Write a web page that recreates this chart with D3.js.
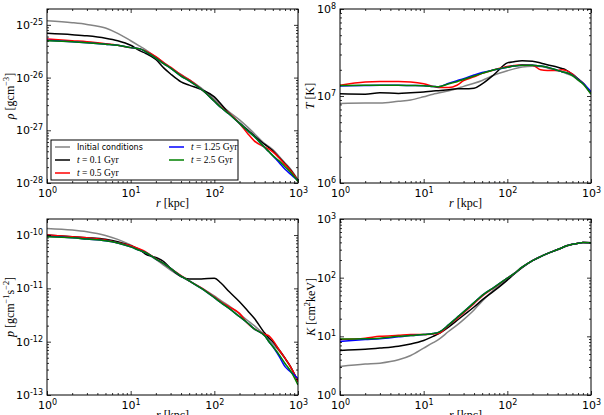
<!DOCTYPE html>
<html>
<head>
<meta charset="utf-8">
<script src="https://cdn.jsdelivr.net/npm/d3@7"></script>
<style>
  body { margin: 0; background: #fff; }
  svg { display: block; }
</style>
</head>
<body>
<div id="chart"></div>
<script>
// radius grid [kpc], shared by every profile
const R = [1, 2, 3, 5, 7, 10, 13, 15, 20, 25, 30, 40, 50, 70, 100, 120, 150, 200, 250, 300, 400, 450, 500, 600, 700, 800, 1000];

// density [g cm^-3]
const rhoInit = [1.20e-25, 1.10e-25, 1.02e-25, 8.7e-26, 6.9e-26, 5.0e-26, 3.9e-26, 3.4e-26, 2.45e-26, 1.9e-26, 1.51e-26, 1.15e-26, 9.1e-27, 6.3e-27, 3.9e-27, 3.0e-27, 2.24e-27, 1.58e-27, 1.15e-27, 8.7e-28, 5.6e-28, 4.9e-28, 4.3e-28, 3.16e-28, 2.4e-28, 1.9e-28, 1.15e-28];
const rhoT01 = [6.9e-26, 6.5e-26, 6.2e-26, 5.6e-26, 5.0e-26, 4.1e-26, 3.2e-26, 2.9e-26, 2.2e-26, 1.51e-26, 1.17e-26, 8.3e-27, 7.2e-27, 5.9e-27, 4.3e-27, 3.16e-27, 2.1e-27, 1.38e-27, 1.02e-27, 7.9e-28, 5.4e-28, 4.7e-28, 4.1e-28, 3.0e-28, 2.3e-28, 1.82e-28, 1.1e-28];
const rhoT05 = [5.4e-26, 5.0e-26, 4.8e-26, 4.4e-26, 4.1e-26, 3.7e-26, 3.5e-26, 3.2e-26, 2.5e-26, 1.9e-26, 1.58e-26, 1.12e-26, 9.1e-27, 6.0e-27, 3.6e-27, 2.75e-27, 2.1e-27, 1.35e-27, 8.7e-28, 6.3e-28, 4.8e-28, 4.4e-28, 3.9e-28, 2.95e-28, 2.24e-28, 1.78e-28, 1.1e-28];
const rhoT125 = [5.1e-26, 4.8e-26, 4.6e-26, 4.3e-26, 4.1e-26, 3.7e-26, 3.5e-26, 3.1e-26, 2.35e-26, 1.82e-26, 1.51e-26, 1.07e-26, 8.7e-27, 6.0e-27, 3.55e-27, 2.7e-27, 2.04e-27, 1.35e-27, 9.8e-28, 7.6e-28, 4.7e-28, 3.9e-28, 3.3e-28, 2.4e-28, 1.82e-28, 1.51e-28, 1.12e-28];
const rhoT25 = [5.0e-26, 4.8e-26, 4.6e-26, 4.3e-26, 4.1e-26, 3.7e-26, 3.5e-26, 3.1e-26, 2.35e-26, 1.82e-26, 1.51e-26, 1.07e-26, 8.7e-27, 6.0e-27, 3.55e-27, 2.7e-27, 2.04e-27, 1.35e-27, 9.8e-28, 7.6e-28, 4.7e-28, 3.9e-28, 3.3e-28, 2.6e-28, 2.04e-28, 1.66e-28, 1.07e-28];

// temperature [K]
const tInit = [8.2e6, 8.3e6, 8.3e6, 8.7e6, 9.0e6, 9.8e6, 1.05e7, 1.08e7, 1.15e7, 1.22e7, 1.29e7, 1.40e7, 1.51e7, 1.74e7, 1.95e7, 2.05e7, 2.15e7, 2.2e7, 2.19e7, 2.1e7, 1.95e7, 1.9e7, 1.82e7, 1.7e7, 1.52e7, 1.38e7, 1.05e7];
const tT01 = [1.06e7, 1.05e7, 1.09e7, 1.07e7, 1.09e7, 1.11e7, 1.14e7, 1.15e7, 1.18e7, 1.21e7, 1.21e7, 1.23e7, 1.38e7, 1.78e7, 2.40e7, 2.48e7, 2.54e7, 2.51e7, 2.4e7, 2.29e7, 2.14e7, 2.07e7, 2.0e7, 1.78e7, 1.58e7, 1.41e7, 1.07e7];
const tT05 = [1.33e7, 1.45e7, 1.47e7, 1.47e7, 1.45e7, 1.38e7, 1.29e7, 1.25e7, 1.25e7, 1.33e7, 1.5e7, 1.66e7, 1.82e7, 2.0e7, 2.19e7, 2.24e7, 2.29e7, 2.26e7, 2.0e7, 1.97e7, 1.97e7, 2.0e7, 1.97e7, 1.78e7, 1.55e7, 1.41e7, 1.07e7];
const tT125 = [1.30e7, 1.32e7, 1.33e7, 1.33e7, 1.32e7, 1.31e7, 1.29e7, 1.28e7, 1.40e7, 1.50e7, 1.58e7, 1.74e7, 1.86e7, 2.0e7, 2.14e7, 2.21e7, 2.26e7, 2.26e7, 2.21e7, 2.14e7, 1.97e7, 1.9e7, 1.86e7, 1.74e7, 1.55e7, 1.41e7, 1.12e7];
const tT25 = [1.32e7, 1.33e7, 1.33e7, 1.33e7, 1.32e7, 1.31e7, 1.29e7, 1.28e7, 1.38e7, 1.46e7, 1.55e7, 1.70e7, 1.82e7, 2.0e7, 2.14e7, 2.21e7, 2.26e7, 2.26e7, 2.21e7, 2.14e7, 1.97e7, 1.9e7, 1.86e7, 1.72e7, 1.53e7, 1.38e7, 1.05e7];

// pressure [g cm^-1 s^-2]
const pInit = [1.33e-10, 1.24e-10, 1.15e-10, 9.8e-11, 8.3e-11, 6.5e-11, 5.2e-11, 4.6e-11, 3.5e-11, 2.7e-11, 2.2e-11, 1.66e-11, 1.38e-11, 1.02e-11, 7.2e-12, 5.9e-12, 4.7e-12, 3.3e-12, 2.5e-12, 2.0e-12, 1.32e-12, 1.1e-12, 9.1e-13, 6.6e-13, 4.8e-13, 3.55e-13, 1.78e-13];
const pT01 = [1.0e-10, 9.3e-11, 8.9e-11, 8.3e-11, 7.5e-11, 6.3e-11, 5.2e-11, 4.4e-11, 3.8e-11, 3.16e-11, 2.37e-11, 1.66e-11, 1.5e-11, 1.5e-11, 1.55e-11, 1.26e-11, 8.7e-12, 5.6e-12, 3.8e-12, 2.75e-12, 1.45e-12, 1.17e-12, 1.0e-12, 6.9e-13, 4.9e-13, 3.55e-13, 1.78e-13];
const pT05 = [1.0e-10, 9.3e-11, 8.9e-11, 8.1e-11, 7.2e-11, 6.3e-11, 5.4e-11, 4.9e-11, 3.6e-11, 2.9e-11, 2.37e-11, 1.74e-11, 1.38e-11, 1.02e-11, 6.9e-12, 5.6e-12, 4.5e-12, 3.4e-12, 2.2e-12, 1.74e-12, 1.38e-12, 1.29e-12, 1.07e-12, 6.9e-13, 4.9e-13, 3.55e-13, 1.78e-13];
const pT125 = [9.5e-11, 8.9e-11, 8.4e-11, 7.8e-11, 7.1e-11, 6.0e-11, 5.1e-11, 4.7e-11, 3.55e-11, 2.9e-11, 2.37e-11, 1.7e-11, 1.38e-11, 1.0e-11, 6.7e-12, 5.4e-12, 4.2e-12, 2.95e-12, 2.24e-12, 1.74e-12, 1.29e-12, 1.0e-12, 8.1e-13, 5.2e-13, 3.4e-13, 2.8e-13, 2.04e-13];
const pT25 = [9.3e-11, 8.9e-11, 8.4e-11, 7.8e-11, 7.1e-11, 6.0e-11, 5.1e-11, 4.7e-11, 3.55e-11, 2.9e-11, 2.37e-11, 1.7e-11, 1.38e-11, 1.0e-11, 6.7e-12, 5.4e-12, 4.2e-12, 2.95e-12, 2.24e-12, 1.74e-12, 1.29e-12, 1.0e-12, 8.1e-13, 5.6e-13, 3.9e-13, 2.95e-13, 1.55e-13];

// entropy [cm^2 keV]
const kInit = [3.06, 3.36, 3.49, 3.98, 4.72, 6.3, 7.8, 8.8, 12.2, 15.5, 19.3, 28.2, 39.8, 63, 93, 115, 148, 195, 229, 257, 302, 324, 347, 372, 385, 398, 393];
const kT01 = [5.75, 6.0, 6.3, 6.8, 7.4, 8.5, 10, 11.0, 14.5, 18.6, 22.9, 31.6, 41.7, 60, 91, 115, 148, 195, 229, 257, 302, 324, 347, 372, 385, 398, 393];
const kT05 = [8.8, 9.3, 10, 10.4, 10.7, 10.7, 11.0, 11.2, 15.5, 20, 25.1, 36, 48.5, 68, 98, 117, 151, 195, 229, 257, 302, 324, 347, 372, 385, 398, 393];
const kT125 = [8.2, 8.8, 9.1, 9.8, 10.3, 10.7, 11.2, 11.7, 15.8, 20.9, 26.1, 37.6, 50, 69, 98, 117, 151, 195, 229, 257, 302, 324, 347, 372, 385, 398, 393];
const kT25 = [9.0, 9.1, 9.3, 10, 10.3, 10.7, 11.2, 11.7, 15.8, 20.9, 26.1, 37.6, 50, 69, 98, 117, 151, 195, 229, 257, 302, 324, 347, 372, 385, 398, 393];

// series order: initial, 0.1, 0.5, 1.25, 2.5 Gyr
const COLORS = ["#848484", "#000000", "#ff0000", "#0000ff", "#008000"];
const LEGEND = [
  [{t: "Initial conditions", sans: true}],
  [{t: "t", i: true}, {t: " = 0.1 Gyr"}],
  [{t: "t", i: true}, {t: " = 0.5 Gyr"}],
  [{t: "t", i: true}, {t: " = 1.25 Gyr"}],
  [{t: "t", i: true}, {t: " = 2.5 Gyr"}]
];

const SANS = "'DejaVu Sans', sans-serif";
const SERIF = "'Liberation Serif', 'DejaVu Serif', serif";

const svg = d3.select("#chart").append("svg")
  .attr("width", 604)
  .attr("height", 415);

// writes a mathtext-like label made of parts into a text element
function richText(text, parts, size) {
  let up = false;
  parts.forEach(p => {
    const s = text.append("tspan").text(p.t);
    if (p.i) s.attr("font-style", "italic");
    if (p.sans) s.attr("font-family", SANS).attr("font-size", size - 1.5);
    if (p.sup && !up) { s.attr("dy", -0.42 * size); up = true; }
    else if (!p.sup && up) { s.attr("dy", 0.42 * size); up = false; }
    if (p.sup) s.attr("font-size", size * 0.7);
  });
}

function powLabels(g) {
  g.selectAll(".tick text").each(function(d) {
    const e = Math.round(Math.log10(d));
    const t = d3.select(this).text(null);
    t.append("tspan").text("10");
    t.append("tspan").attr("dy", "-0.5em").attr("font-size", "8px").text(e < 0 ? "-" + (-e) : e);
  });
}

function logTicks(domain) {
  const lo = Math.floor(Math.log10(domain[0]) + 1e-9);
  const hi = Math.ceil(Math.log10(domain[1]) - 1e-9);
  const major = [], minor = [];
  for (let e = lo; e <= hi; e++) {
    const b = Math.pow(10, e);
    if (b >= domain[0] * 0.999 && b <= domain[1] * 1.001) major.push(b);
    for (let k = 2; k <= 9; k++) {
      const v = k * b;
      if (v >= domain[0] && v <= domain[1] * 1.001) minor.push(v);
    }
  }
  return {major, minor};
}

function drawPanel(p, idx) {
  const x = d3.scaleLog().domain([1, 1000]).range([p.x0, p.x1]);
  const y = d3.scaleLog().domain(p.domain).range([p.y1, p.y0]);
  const g = svg.append("g");

  g.append("clipPath").attr("id", "clip" + idx)
    .append("rect")
      .attr("x", p.x0).attr("y", p.y0)
      .attr("width", p.x1 - p.x0).attr("height", p.y1 - p.y0);

  const line = d3.line()
    .x(d => x(d[0]))
    .y(d => y(d[1]))
    .curve(d3.curveMonotoneX);

  p.series.forEach((vals, i) => {
    g.append("path")
      .datum(vals.map((v, j) => [R[j], v]))
      .attr("clip-path", "url(#clip" + idx + ")")
      .attr("fill", "none")
      .attr("stroke", COLORS[i])
      .attr("stroke-width", 1.5)
      .attr("stroke-linejoin", "round")
      .attr("d", line);
  });

  const xt = logTicks([1, 1000]);
  const yt = logTicks(p.domain);

  const axis = (gen, vals, size, labels, tx, ty) => {
    const a = g.append("g")
      .attr("transform", `translate(${tx},${ty})`)
      .call(gen.tickValues(vals).tickSize(-size).tickPadding(labels ? 6 : 0)
        .tickFormat(labels ? d3.format("") : () => ""));
    a.select(".domain").remove();
    a.selectAll(".tick line").attr("stroke", "#000").attr("stroke-width", 0.8);
    a.selectAll(".tick text").attr("fill", "#000")
      .attr("font-family", SANS).attr("font-size", "11px");
    if (labels) a.call(powLabels);
    return a;
  };

  // major ticks + labels
  axis(d3.axisBottom(x), xt.major, 4, true, 0, p.y1);
  axis(d3.axisLeft(y), yt.major, 4, true, p.x0, 0).selectAll(".tick text").attr("dx", 2);
  axis(d3.axisTop(x), xt.major, 4, false, 0, p.y0);
  axis(d3.axisRight(y), yt.major, 4, false, p.x1, 0);
  // minor ticks
  axis(d3.axisBottom(x), xt.minor, 2, false, 0, p.y1);
  axis(d3.axisTop(x), xt.minor, 2, false, 0, p.y0);
  axis(d3.axisLeft(y), yt.minor, 2, false, p.x0, 0);
  axis(d3.axisRight(y), yt.minor, 2, false, p.x1, 0);

  // frame
  g.append("rect")
    .attr("x", p.x0).attr("y", p.y0)
    .attr("width", p.x1 - p.x0).attr("height", p.y1 - p.y0)
    .attr("fill", "none").attr("stroke", "#000").attr("stroke-width", 1);

  // axis labels
  const xl = g.append("text")
    .attr("x", (p.x0 + p.x1) / 2).attr("y", p.y1 + 24)
    .attr("text-anchor", "middle")
    .attr("font-family", SERIF).attr("font-size", 12).attr("fill", "#000");
  richText(xl, [{t: "r", i: true}, {t: " [kpc]"}], 12);

  const cy = (p.y0 + p.y1) / 2;
  const yl = g.append("text")
    .attr("transform", `translate(${p.labelX},${cy}) rotate(-90)`)
    .attr("text-anchor", "middle")
    .attr("font-family", SERIF).attr("font-size", 12).attr("fill", "#000");
  richText(yl, p.ylabel, 12);
}

const panels = [
  {x0: 47, x1: 298, y0: 9, y1: 183, domain: [1e-28, 2e-25], labelX: 14,
   series: [rhoInit, rhoT01, rhoT05, rhoT125, rhoT25],
   ylabel: [{t: "ρ", i: true}, {t: " [gcm"}, {t: "−3", sup: true}, {t: "]"}]},
  {x0: 340, x1: 591, y0: 9, y1: 183, domain: [1e6, 1e8], labelX: 314,
   series: [tInit, tT01, tT05, tT125, tT25],
   ylabel: [{t: "T", i: true}, {t: " [K]"}]},
  {x0: 47, x1: 298, y0: 219, y1: 395, domain: [1e-13, 2e-10], labelX: 14,
   series: [pInit, pT01, pT05, pT125, pT25],
   ylabel: [{t: "p", i: true}, {t: " [gcm"}, {t: "−1", sup: true}, {t: "s"}, {t: "−2", sup: true}, {t: "]"}]},
  {x0: 340, x1: 591, y0: 219, y1: 395, domain: [1, 1000], labelX: 315,
   series: [kInit, kT01, kT05, kT125, kT25],
   ylabel: [{t: "K", i: true}, {t: " [cm"}, {t: "2", sup: true}, {t: "keV]"}]}
];

panels.forEach(drawPanel);

// legend in the density panel
const lg = svg.append("g");
lg.append("rect")
  .attr("x", 51).attr("y", 140).attr("width", 187).attr("height", 40)
  .attr("fill", "#fff").attr("stroke", "#000").attr("stroke-width", 1);

const slots = [[55, 147], [55, 160], [55, 173], [169, 147], [169, 160]];
LEGEND.forEach((parts, i) => {
  const [lx, ly] = slots[i];
  lg.append("line")
    .attr("x1", lx).attr("x2", lx + 15).attr("y1", ly).attr("y2", ly)
    .attr("stroke", COLORS[i]).attr("stroke-width", 1.5);
  const t = lg.append("text")
    .attr("x", lx + 22).attr("y", ly + 3.3)
    .attr("font-family", SERIF).attr("font-size", 9.5).attr("fill", "#000");
  richText(t, parts, 9.5);
});
</script>
</body>
</html>
